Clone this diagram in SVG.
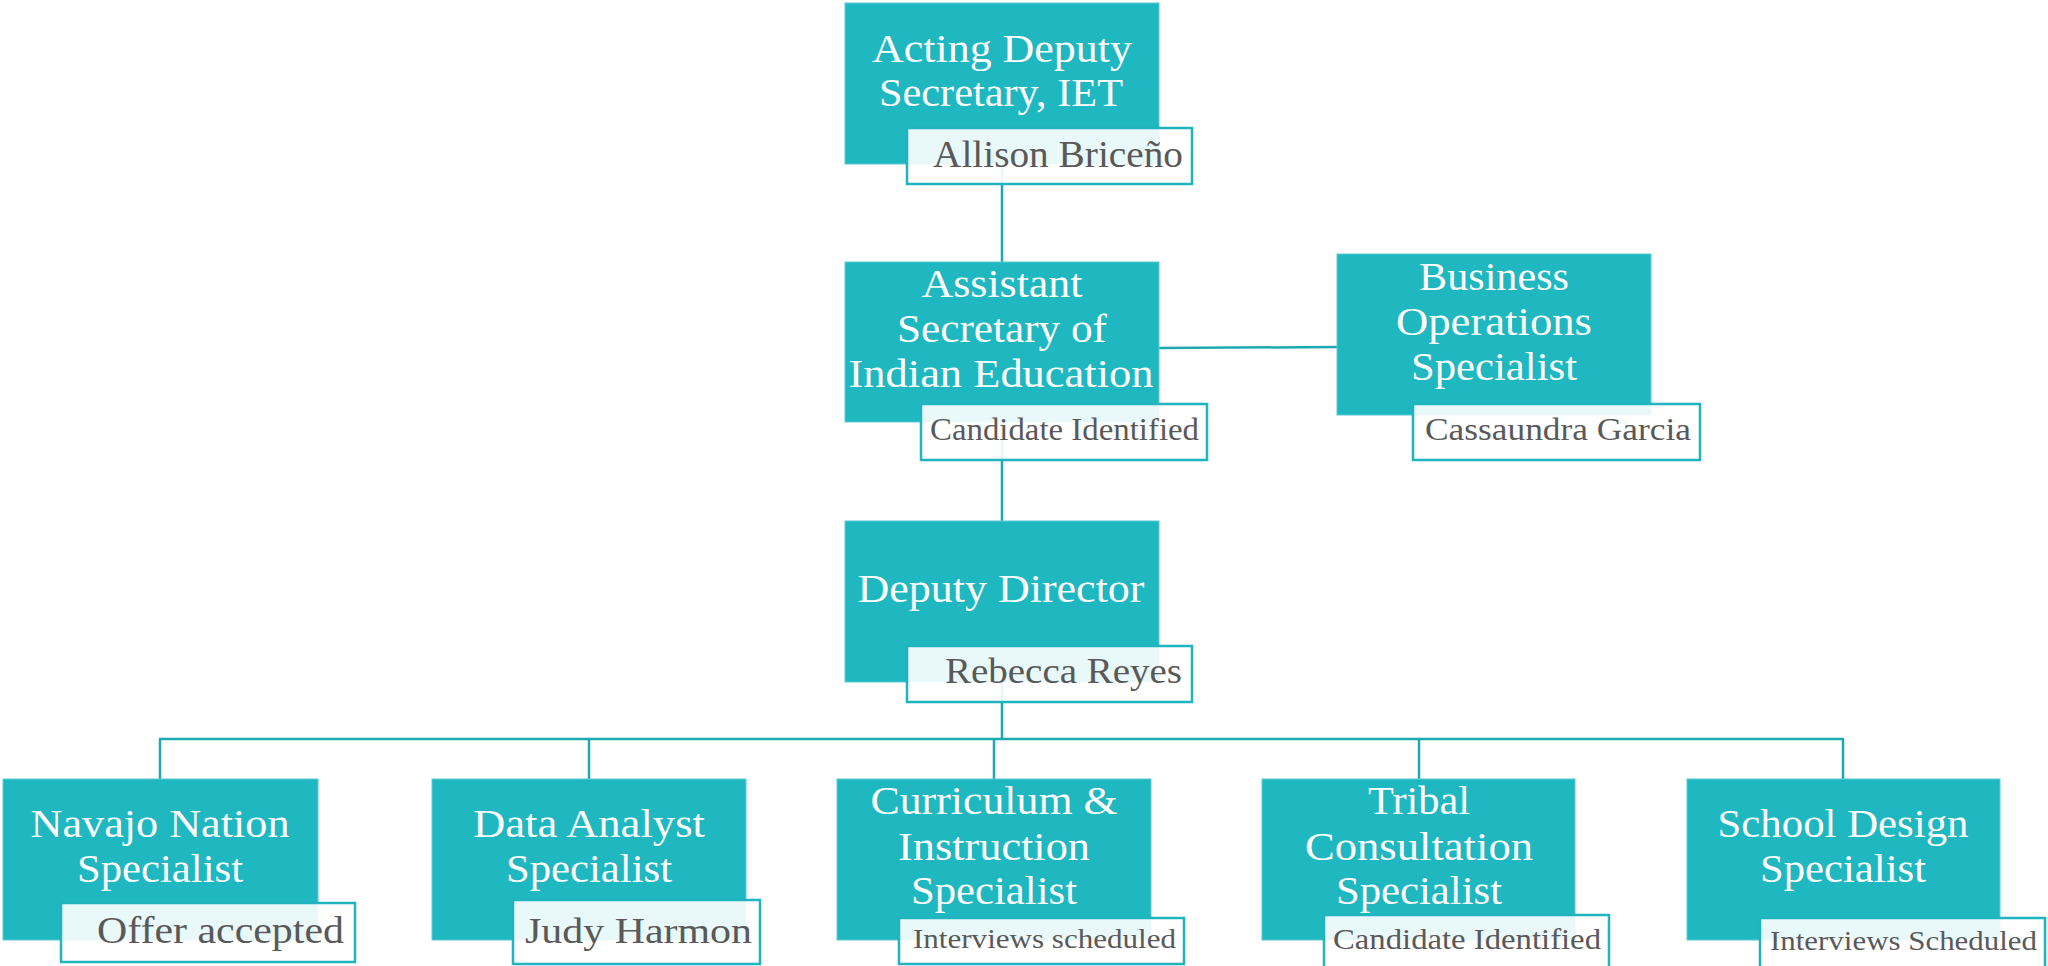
<svg xmlns="http://www.w3.org/2000/svg" width="2048" height="966" viewBox="0 0 2048 966">
  <style>
    .role { fill: #1fb7c0; stroke: #5ccbd1; stroke-width: 1; }
    .tag { fill: #ffffff; fill-opacity: 0.9; stroke: #20b4be; stroke-width: 2.5; }
    .title { font-family: "Liberation Serif", "Times New Roman", serif; font-size: 39px; fill: #ffffff; text-anchor: middle; }
    .name { font-family: "Liberation Serif", "Times New Roman", serif; fill: #595959; text-anchor: end; }
    .link { stroke: #1ea9b2; stroke-width: 2.5; fill: none; }
  </style>

  <!-- reporting lines -->
  <g id="connectors">
    <line class="link" x1="1002" y1="164" x2="1002" y2="262"/>
    <line class="link" x1="1002" y1="422" x2="1002" y2="521"/>
    <line class="link" x1="1159" y1="348" x2="1337" y2="347"/>
    <line class="link" x1="1002" y1="682" x2="1002" y2="739"/>
    <line class="link" x1="159" y1="739" x2="1844" y2="739"/>
    <line class="link" x1="160" y1="739" x2="160" y2="779"/>
    <line class="link" x1="589" y1="739" x2="589" y2="779"/>
    <line class="link" x1="994" y1="739" x2="994" y2="779"/>
    <line class="link" x1="1419" y1="739" x2="1419" y2="779"/>
    <line class="link" x1="1843" y1="739" x2="1843" y2="779"/>
  </g>

  <g id="acting-deputy-secretary">
    <rect class="role" x="845" y="3" width="314" height="161"/>
    <text class="title" x="1002" y="62" textLength="260" lengthAdjust="spacingAndGlyphs">Acting Deputy</text>
    <text class="title" x="1001" y="106" textLength="244" lengthAdjust="spacingAndGlyphs">Secretary, IET</text>
    <rect class="tag" x="907" y="128" width="285" height="56"/>
    <text class="name" x="1183" y="167" font-size="38" textLength="250" lengthAdjust="spacingAndGlyphs">Allison Briceño</text>
  </g>

  <g id="assistant-secretary">
    <rect class="role" x="845" y="262" width="314" height="160"/>
    <text class="title" x="1002" y="297" textLength="161" lengthAdjust="spacingAndGlyphs">Assistant</text>
    <text class="title" x="1002" y="342" textLength="210" lengthAdjust="spacingAndGlyphs">Secretary of</text>
    <text class="title" x="1001" y="387" textLength="305" lengthAdjust="spacingAndGlyphs">Indian Education</text>
    <rect class="tag" x="921" y="404" width="286" height="56"/>
    <text class="name" x="1199" y="440" font-size="31" textLength="269" lengthAdjust="spacingAndGlyphs">Candidate Identified</text>
  </g>

  <g id="business-operations">
    <rect class="role" x="1337" y="254" width="314" height="161"/>
    <text class="title" x="1494" y="290" textLength="150" lengthAdjust="spacingAndGlyphs">Business</text>
    <text class="title" x="1494" y="335" textLength="196" lengthAdjust="spacingAndGlyphs">Operations</text>
    <text class="title" x="1494" y="380" textLength="166" lengthAdjust="spacingAndGlyphs">Specialist</text>
    <rect class="tag" x="1413" y="404" width="287" height="56"/>
    <text class="name" x="1691" y="440" font-size="32" textLength="266" lengthAdjust="spacingAndGlyphs">Cassaundra Garcia</text>
  </g>

  <g id="deputy-director">
    <rect class="role" x="845" y="521" width="314" height="161"/>
    <text class="title" x="1001" y="602" textLength="287" lengthAdjust="spacingAndGlyphs">Deputy Director</text>
    <rect class="tag" x="907" y="646" width="285" height="56"/>
    <text class="name" x="1182" y="683" font-size="36" textLength="237" lengthAdjust="spacingAndGlyphs">Rebecca Reyes</text>
  </g>

  <g id="navajo-nation-specialist">
    <rect class="role" x="3" y="779" width="315" height="161"/>
    <text class="title" x="160" y="837" textLength="259" lengthAdjust="spacingAndGlyphs">Navajo Nation</text>
    <text class="title" x="160" y="882" textLength="166" lengthAdjust="spacingAndGlyphs">Specialist</text>
    <rect class="tag" x="61" y="903" width="294" height="59"/>
    <text class="name" x="344" y="943" font-size="37" textLength="247" lengthAdjust="spacingAndGlyphs">Offer accepted</text>
  </g>

  <g id="data-analyst-specialist">
    <rect class="role" x="432" y="779" width="314" height="161"/>
    <text class="title" x="589" y="837" textLength="232" lengthAdjust="spacingAndGlyphs">Data Analyst</text>
    <text class="title" x="589" y="882" textLength="166" lengthAdjust="spacingAndGlyphs">Specialist</text>
    <rect class="tag" x="513" y="900" width="247" height="64"/>
    <text class="name" x="752" y="943" font-size="35" textLength="227" lengthAdjust="spacingAndGlyphs">Judy Harmon</text>
  </g>

  <g id="curriculum-instruction-specialist">
    <rect class="role" x="837" y="779" width="314" height="161"/>
    <text class="title" x="994" y="814" textLength="247" lengthAdjust="spacingAndGlyphs">Curriculum &amp;</text>
    <text class="title" x="994" y="860" textLength="192" lengthAdjust="spacingAndGlyphs">Instruction</text>
    <text class="title" x="994" y="904" textLength="166" lengthAdjust="spacingAndGlyphs">Specialist</text>
    <rect class="tag" x="899" y="918" width="285" height="46"/>
    <text class="name" x="1176" y="948" font-size="27" textLength="263" lengthAdjust="spacingAndGlyphs">Interviews scheduled</text>
  </g>

  <g id="tribal-consultation-specialist">
    <rect class="role" x="1262" y="779" width="313" height="161"/>
    <text class="title" x="1419" y="814" textLength="102" lengthAdjust="spacingAndGlyphs">Tribal</text>
    <text class="title" x="1419" y="860" textLength="228" lengthAdjust="spacingAndGlyphs">Consultation</text>
    <text class="title" x="1419" y="904" textLength="166" lengthAdjust="spacingAndGlyphs">Specialist</text>
    <rect class="tag" x="1324" y="915" width="285" height="60"/>
    <text class="name" x="1601" y="949" font-size="30" textLength="268" lengthAdjust="spacingAndGlyphs">Candidate Identified</text>
  </g>

  <g id="school-design-specialist">
    <rect class="role" x="1687" y="779" width="313" height="161"/>
    <text class="title" x="1843" y="837" textLength="251" lengthAdjust="spacingAndGlyphs">School Design</text>
    <text class="title" x="1843" y="882" textLength="166" lengthAdjust="spacingAndGlyphs">Specialist</text>
    <rect class="tag" x="1760" y="918" width="285" height="57"/>
    <text class="name" x="2037" y="950" font-size="27" textLength="267" lengthAdjust="spacingAndGlyphs">Interviews Scheduled</text>
  </g>
</svg>
